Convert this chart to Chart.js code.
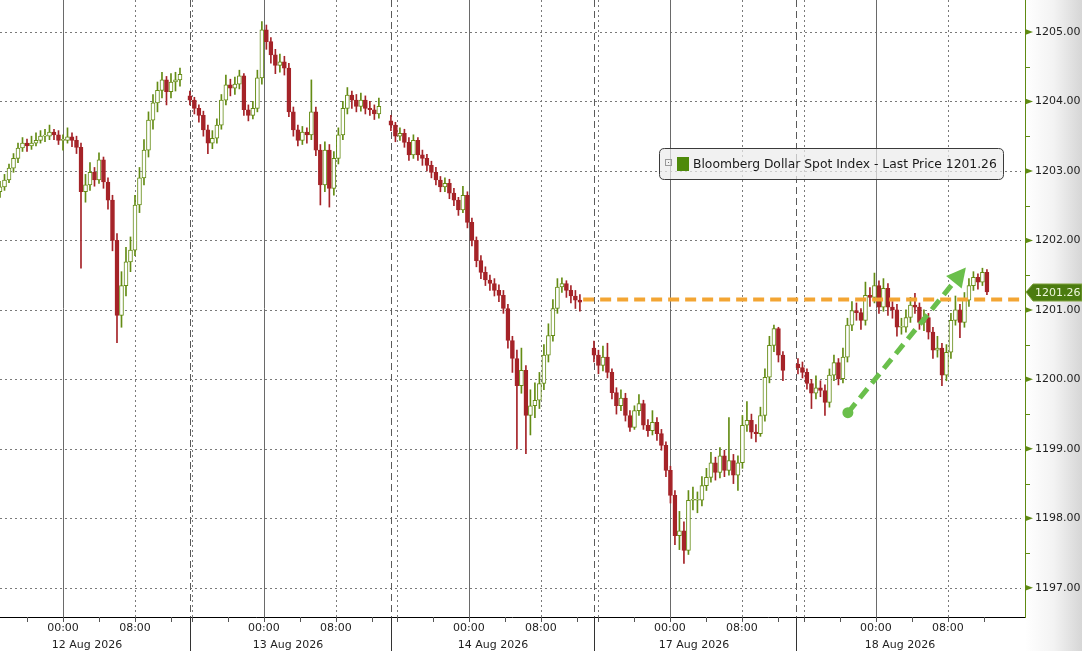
<!DOCTYPE html>
<html>
<head>
<meta charset="utf-8">
<title>Bloomberg Dollar Spot Index</title>
<script src="https://cdn.jsdelivr.net/npm/chart.js@4.4.1/dist/chart.umd.min.js"></script>
<style>
html,body{margin:0;padding:0;background:#fff;}
#wrap{width:1082px;height:651px;}
</style>
</head>
<body>
<div id="wrap"><canvas id="chart" width="1082" height="651"></canvas></div>
<script>
// time axis is in "session hours" from the left edge (gaps between sessions are squeezed out)
var dayNames=["12 Aug 2026","13 Aug 2026","14 Aug 2026","17 Aug 2026","18 Aug 2026"];
var dayMidnights=[7,29.33,52.11,74.44,97.33];
var dayBreaks=[21.1,43.4,66.0,88.4];
var dayStarts=[0,21.1,43.44,66.0,88.67];
var barHours=0.5;
var xMax=113.9;

var yTicks=[1197,1198,1199,1200,1201,1202,1203,1204,1205];
var yMin=1196.58, yMax=1205.46;

// 30 min candles, open = previous close
var firstOpens=[1202.70,1204.08,1203.72,1200.45,1200.22];

var closes12=[1202.77,1202.87,1203.04,1203.18,1203.33,1203.40,1203.36,1203.40,1203.44,1203.50,1203.50,1203.56,1203.52,1203.44,1203.44,1203.49,1203.44,1203.34,1202.70,1202.80,1202.98,1202.87,1203.16,1202.84,1202.58,1202.00,1200.92,1201.35,1201.69,1201.86,1202.51,1202.90,1203.30,1203.73,1203.98,1204.16,1204.31,1204.14,1204.28,1204.31,1204.39];
var highs12=[1202.85,1202.95,1203.10,1203.25,1203.40,1203.48,1203.46,1203.50,1203.55,1203.58,1203.60,1203.66,1203.60,1203.58,1203.52,1203.62,1203.55,1203.50,1203.40,1202.95,1203.12,1203.05,1203.26,1203.20,1202.90,1202.65,1202.10,1201.55,1201.90,1202.05,1202.65,1203.05,1203.45,1203.85,1204.10,1204.28,1204.42,1204.36,1204.40,1204.42,1204.48];
var lows12=[1202.62,1202.72,1202.83,1202.98,1203.12,1203.28,1203.28,1203.31,1203.36,1203.40,1203.42,1203.45,1203.45,1203.38,1203.30,1203.40,1203.35,1203.25,1201.60,1202.55,1202.72,1202.78,1202.82,1202.75,1202.45,1201.85,1200.53,1200.75,1201.20,1201.55,1201.78,1202.40,1202.80,1203.20,1203.60,1203.85,1204.05,1203.95,1204.05,1204.15,1204.22];

var closes13=[1204.02,1203.90,1203.80,1203.59,1203.40,1203.47,1203.66,1204.02,1204.24,1204.19,1204.25,1204.37,1203.88,1203.80,1203.90,1204.34,1205.03,1204.86,1204.67,1204.52,1204.57,1204.48,1203.85,1203.59,1203.44,1203.56,1203.52,1203.85,1203.30,1202.80,1203.30,1202.75,1203.18,1203.52,1203.90,1204.09,1204.02,1203.93,1204.02,1203.90,1203.88,1203.82,1203.93];
var highs13=[1204.15,1204.06,1203.95,1203.86,1203.66,1203.58,1203.75,1204.10,1204.38,1204.32,1204.35,1204.45,1204.40,1203.95,1204.00,1204.45,1205.15,1205.10,1204.92,1204.75,1204.68,1204.65,1204.55,1203.92,1203.66,1203.64,1203.62,1204.31,1203.92,1203.38,1203.42,1203.38,1203.28,1203.62,1204.00,1204.20,1204.15,1204.10,1204.12,1204.08,1204.00,1203.95,1204.05];
var lows13=[1203.95,1203.82,1203.70,1203.50,1203.25,1203.32,1203.40,1203.60,1203.95,1204.08,1204.10,1204.18,1203.80,1203.72,1203.75,1203.85,1204.25,1204.75,1204.55,1204.40,1204.42,1204.38,1203.78,1203.50,1203.36,1203.38,1203.40,1203.45,1203.22,1202.51,1202.70,1202.48,1202.65,1203.10,1203.45,1203.82,1203.90,1203.85,1203.86,1203.82,1203.80,1203.74,1203.76];

var closes14=[1203.66,1203.50,1203.54,1203.41,1203.23,1203.44,1203.23,1203.18,1203.08,1202.98,1202.87,1202.77,1202.82,1202.68,1202.58,1202.44,1202.65,1202.26,1202.00,1201.71,1201.54,1201.43,1201.38,1201.28,1201.21,1201.02,1200.56,1200.30,1199.91,1200.13,1199.48,1199.62,1199.70,1199.94,1200.35,1200.63,1201.02,1201.33,1201.38,1201.28,1201.20,1201.14,1201.11];
var highs14=[1203.80,1203.70,1203.62,1203.60,1203.48,1203.52,1203.48,1203.30,1203.24,1203.14,1203.05,1202.92,1202.90,1202.88,1202.75,1202.62,1202.78,1202.70,1202.32,1202.05,1201.78,1201.62,1201.50,1201.45,1201.36,1201.28,1201.08,1200.62,1200.42,1200.45,1200.20,1199.85,1199.95,1200.10,1200.50,1200.80,1201.15,1201.45,1201.46,1201.42,1201.35,1201.28,1201.22];
var lows14=[1203.58,1203.42,1203.44,1203.34,1203.15,1203.18,1203.15,1203.08,1203.00,1202.90,1202.80,1202.70,1202.70,1202.60,1202.50,1202.36,1202.40,1202.18,1201.92,1201.62,1201.45,1201.35,1201.28,1201.20,1201.12,1200.95,1200.45,1200.10,1199.00,1199.80,1198.93,1199.20,1199.45,1199.58,1199.85,1200.25,1200.55,1200.95,1201.25,1201.18,1201.10,1201.02,1200.98];

var closes17=[1200.35,1200.20,1200.32,1200.10,1199.81,1199.62,1199.73,1199.48,1199.31,1199.55,1199.65,1199.34,1199.26,1199.38,1199.22,1199.05,1198.69,1198.33,1197.75,1197.82,1197.54,1198.26,1198.26,1198.26,1198.47,1198.59,1198.80,1198.66,1198.90,1198.69,1198.83,1198.62,1198.80,1199.34,1199.41,1199.24,1199.22,1199.48,1200.03,1200.49,1200.73,1200.35,1200.13];
var highs17=[1200.55,1200.42,1200.48,1200.52,1200.15,1199.88,1199.85,1199.80,1199.55,1199.62,1199.78,1199.70,1199.42,1199.55,1199.45,1199.28,1199.10,1198.75,1198.40,1198.10,1197.95,1198.40,1198.45,1198.38,1198.60,1198.72,1198.95,1198.88,1199.02,1198.98,1199.45,1198.92,1198.90,1199.48,1199.68,1199.50,1199.35,1199.60,1200.15,1200.62,1200.78,1200.75,1200.40];
var lows17=[1200.25,1200.08,1200.12,1200.02,1199.72,1199.50,1199.55,1199.40,1199.25,1199.28,1199.48,1199.28,1199.18,1199.20,1199.12,1198.98,1198.60,1198.22,1197.62,1197.55,1197.35,1197.48,1198.12,1198.08,1198.18,1198.40,1198.52,1198.55,1198.58,1198.60,1198.62,1198.50,1198.40,1198.72,1199.25,1199.15,1199.10,1199.18,1199.40,1199.95,1200.40,1200.25,1199.98];

var closes18=[1200.17,1200.10,1199.94,1199.80,1199.88,1199.84,1199.67,1200.06,1200.24,1200.01,1200.32,1200.78,1200.99,1200.96,1200.85,1201.21,1201.18,1201.35,1201.04,1201.31,1201.04,1201.00,1200.75,1200.75,1200.89,1201.07,1201.04,1200.82,1200.89,1200.68,1200.42,1200.45,1200.06,1200.39,1200.85,1201.00,1200.82,1201.14,1201.35,1201.47,1201.40,1201.54,1201.26];
var highs18=[1200.30,1200.25,1200.15,1200.00,1200.05,1199.98,1199.92,1200.15,1200.35,1200.30,1200.45,1200.88,1201.12,1201.10,1201.02,1201.40,1201.32,1201.53,1201.42,1201.45,1201.38,1201.12,1201.08,1200.88,1201.00,1201.18,1201.24,1201.10,1201.00,1200.95,1200.75,1200.62,1200.52,1200.50,1200.95,1201.20,1201.08,1201.25,1201.45,1201.55,1201.52,1201.60,1201.58];
var lows18=[1200.08,1200.02,1199.86,1199.58,1199.72,1199.75,1199.48,1199.60,1199.98,1199.92,1199.95,1200.25,1200.70,1200.85,1200.72,1200.78,1201.05,1201.10,1200.95,1200.98,1200.92,1200.88,1200.62,1200.65,1200.68,1200.82,1200.95,1200.72,1200.70,1200.58,1200.30,1200.32,1199.91,1199.98,1200.30,1200.78,1200.60,1200.75,1201.05,1201.28,1201.30,1201.35,1201.22];

// annotations
var lastPrice=1201.26;
var refLevel=1201.15, refFrom=64.8;
var arrowFrom=[94.22,1199.52], arrowTo=[107.33,1201.61];
var legendText="Bloomberg Dollar Spot Index - Last Price 1201.26";

var upCol='#648c14', dnCol='#a52328', arrowCol='#6abf4b', orangeCol='#f3a533';

var days=[[closes12,highs12,lows12],[closes13,highs13,lows13],[closes14,highs14,lows14],[closes17,highs17,lows17],[closes18,highs18,lows18]];

function buildCandles(){
	var out=[];
	for(var d=0;d<days.length;d++){
		var c=days[d][0],h=days[d][1],l=days[d][2];
		for(var i=0;i<c.length;i++){
			var o=(i==0)?firstOpens[d]:c[i-1];
			out.push({x:dayStarts[d]+i*barHours,o:o,h:h[i],l:l[i],c:c[i]});
		}
	}
	return out;
}

function buildXTicks(){
	var vals=[],labels=[];
	for(var d=0;d<dayMidnights.length;d++){
		vals.push(dayMidnights[d]);labels.push("00:00");
		vals.push(dayMidnights[d]+2.67);labels.push(["",dayNames[d]]);
		vals.push(dayMidnights[d]+8);labels.push("08:00");
	}
	return {vals:vals,labels:labels};
}

function seg(d,xs){
	return [d==0?xs.min:dayBreaks[d-1], d<dayBreaks.length?dayBreaks[d]:xs.max];
}

function hline(ctx,x1,y1,x2,y2){
	ctx.beginPath();ctx.moveTo(x1,y1);ctx.lineTo(x2,y2);ctx.stroke();
}

var bgPlugin={
	id:'bg',
	beforeDraw:function(chart){
		var ctx=chart.ctx,a=chart.chartArea;
		ctx.save();
		ctx.fillStyle='#ffffff';
		ctx.fillRect(0,0,chart.width,chart.height);
		var g=ctx.createLinearGradient(a.right,0,chart.width,0);
		g.addColorStop(0,'#ffffff');
		g.addColorStop(0.5,'#f3f3f3');
		g.addColorStop(1,'#d6d6d6');
		ctx.fillStyle=g;
		ctx.fillRect(a.right,0,chart.width-a.right,chart.height);
		ctx.restore();
	}
};

var gridPlugin={
	id:'grid',
	beforeDatasetsDraw:function(chart){
		var ctx=chart.ctx,a=chart.chartArea,xs=chart.scales.x,ys=chart.scales.y;
		ctx.save();
		ctx.lineWidth=1;
		//horizontal dotted lines
		ctx.strokeStyle='#7a7a7a';
		ctx.setLineDash([2,3]);
		for(var k=0;k<yTicks.length;k++){
			var y=Math.round(ys.getPixelForValue(yTicks[k]))+0.5;
			hline(ctx,a.left,y,a.right-4,y);
		}
		//vertical lines, per session
		for(var d=0;d<dayMidnights.length;d++){
			var s=seg(d,xs);
			var offs=[-8,8];
			ctx.strokeStyle='#7a7a7a';
			ctx.setLineDash([2,3]);
			for(var j=0;j<offs.length;j++){
				var t=dayMidnights[d]+offs[j];
				if(t>s[0]&&t<s[1]){
					var x=Math.round(xs.getPixelForValue(t))+0.5;
					hline(ctx,x,a.top,x,a.bottom);
				}
			}
			ctx.setLineDash([]);
			ctx.strokeStyle='#6a6a6a';
			var xm=Math.round(xs.getPixelForValue(dayMidnights[d]))+0.5;
			hline(ctx,xm,a.top,xm,a.bottom);
		}
		//session breaks
		ctx.strokeStyle='#5a5a5a';
		ctx.setLineDash([7,4]);
		for(var b=0;b<dayBreaks.length;b++){
			var xb=Math.round(xs.getPixelForValue(dayBreaks[b]))+0.5;
			hline(ctx,xb,a.top,xb,a.bottom);
		}
		ctx.restore();
	}
};

var overlayPlugin={
	id:'overlay',
	afterDatasetsDraw:function(chart){
		var ctx=chart.ctx,xs=chart.scales.x,ys=chart.scales.y;
		//green trend arrow
		var p0={x:xs.getPixelForValue(arrowFrom[0]),y:ys.getPixelForValue(arrowFrom[1])};
		var p1={x:xs.getPixelForValue(arrowTo[0]),y:ys.getPixelForValue(arrowTo[1])};
		var ang=Math.atan2(p1.y-p0.y,p1.x-p0.x);
		var headLen=19,headW=10;
		var bx=p1.x-headLen*Math.cos(ang),by=p1.y-headLen*Math.sin(ang);
		ctx.save();
		ctx.strokeStyle=arrowCol;
		ctx.fillStyle=arrowCol;
		ctx.lineWidth=5;
		ctx.setLineDash([12,7]);
		hline(ctx,p0.x,p0.y,bx+2*Math.cos(ang),by+2*Math.sin(ang));
		ctx.setLineDash([]);
		ctx.beginPath();ctx.arc(p0.x,p0.y,5.5,0,Math.PI*2);ctx.fill();
		ctx.beginPath();
		ctx.moveTo(p1.x,p1.y);
		ctx.lineTo(bx+headW*Math.sin(ang),by-headW*Math.cos(ang));
		ctx.lineTo(bx-headW*Math.sin(ang),by+headW*Math.cos(ang));
		ctx.closePath();ctx.fill();
		ctx.restore();
	},
	afterDraw:function(chart){
		var ctx=chart.ctx,a=chart.chartArea,xs=chart.scales.x,ys=chart.scales.y;
		ctx.save();
		ctx.lineWidth=1;
		//x axis line and tick marks
		ctx.strokeStyle='#000000';
		hline(ctx,a.left,a.bottom+0.5,a.right,a.bottom+0.5);
		ctx.strokeStyle='#555555';
		for(var d=0;d<dayMidnights.length;d++){
			var s=seg(d,xs);
			var offs=[-8,-4,0,4,8,12];
			for(var j=0;j<offs.length;j++){
				var t=dayMidnights[d]+offs[j];
				if(t>s[0]&&t<s[1]){
					var x=Math.round(xs.getPixelForValue(t))+0.5;
					hline(ctx,x,a.bottom,x,a.bottom+5);
				}
			}
		}
		ctx.strokeStyle='#333333';
		for(var b=0;b<dayBreaks.length;b++){
			var xb=Math.round(xs.getPixelForValue(dayBreaks[b]))+0.5;
			hline(ctx,xb,a.bottom,xb,chart.height);
		}
		//y axis line, arrow ticks, minor ticks
		var axCol='#5f8a12';
		var xr=Math.round(a.right)+0.5;
		ctx.strokeStyle=axCol;
		hline(ctx,xr,a.top,xr,a.bottom+1);
		ctx.fillStyle=axCol;
		for(var k=0;k<yTicks.length;k++){
			var y=ys.getPixelForValue(yTicks[k]);
			ctx.beginPath();
			ctx.moveTo(a.right,y-3);ctx.lineTo(a.right+8,y);ctx.lineTo(a.right,y+3);
			ctx.closePath();ctx.fill();
			var ym=Math.round(ys.getPixelForValue(yTicks[k]+0.5))+0.5;
			if(yTicks[k]+0.5<yMax) hline(ctx,a.right,ym,a.right+5,ym);
		}
		if(yTicks[0]-0.5>yMin){
			var y0=Math.round(ys.getPixelForValue(yTicks[0]-0.5))+0.5;
			hline(ctx,a.right,y0,a.right+5,y0);
		}
		//last price tag
		var py=Math.round(ys.getPixelForValue(lastPrice));
		ctx.beginPath();
		ctx.moveTo(a.right+1,py);
		ctx.lineTo(a.right+8,py-8);
		ctx.lineTo(chart.width,py-8);
		ctx.lineTo(chart.width,py+9);
		ctx.lineTo(a.right+8,py+9);
		ctx.closePath();
		ctx.fillStyle='#4b7b10';
		ctx.fill();
		ctx.strokeStyle='#7ea23c';
		ctx.stroke();
		ctx.fillStyle='#eef7dc';
		ctx.font='11px "DejaVu Sans"';
		ctx.textBaseline='middle';
		ctx.textAlign='left';
		ctx.fillText(lastPrice.toFixed(2),a.right+10,py+1);
		//legend box
		var lx=659.5,ly=148.5,lw=344,lh=31,r=5;
		ctx.beginPath();
		ctx.moveTo(lx+r,ly);ctx.lineTo(lx+lw-r,ly);ctx.quadraticCurveTo(lx+lw,ly,lx+lw,ly+r);
		ctx.lineTo(lx+lw,ly+lh-r);ctx.quadraticCurveTo(lx+lw,ly+lh,lx+lw-r,ly+lh);
		ctx.lineTo(lx+r,ly+lh);ctx.quadraticCurveTo(lx,ly+lh,lx,ly+lh-r);
		ctx.lineTo(lx,ly+r);ctx.quadraticCurveTo(lx,ly,lx+r,ly);
		ctx.closePath();
		ctx.fillStyle='rgba(236,236,236,0.72)';
		ctx.fill();
		ctx.strokeStyle='#3a3a3a';
		ctx.stroke();
		ctx.strokeStyle='#9a9a9a';
		ctx.strokeRect(665.5,159.5,6,6);
		ctx.fillStyle='#777777';
		ctx.fillRect(668,162,1,1);
		ctx.fillStyle='#4e8a0a';
		ctx.fillRect(677,157,12,14);
		ctx.font='12px "DejaVu Sans"';
		var w12=ctx.measureText(legendText).width;
		var fs=12*304/w12;
		ctx.font=fs.toFixed(2)+'px "DejaVu Sans"';
		ctx.fillStyle='#1a1a1a';
		ctx.fillText(legendText,693,164.5);
		ctx.restore();
	}
};

function drawChart(){
	var candles=buildCandles();
	var xt=buildXTicks();
	var bodyData=[],wickData=[],lineCols=[],fills=[];
	for(var i=0;i<candles.length;i++){
		var k=candles[i];
		bodyData.push({x:k.x,y:[k.o,k.c]});
		wickData.push({x:k.x,y:[k.l,k.h]});
		lineCols.push(k.c>=k.o?upCol:dnCol);
		fills.push(k.c>=k.o?'#ffffff':dnCol);
	}
	var ctx=document.getElementById('chart').getContext('2d');
	new Chart(ctx,{
		type:'bar',
		data:{
			datasets:[
				{type:'line',data:[{x:refFrom,y:refLevel},{x:xMax,y:refLevel}],borderColor:orangeCol,borderWidth:4,borderDash:[11,6],pointRadius:0,fill:false},
				{data:bodyData,backgroundColor:fills,borderColor:lineCols,borderWidth:1,borderSkipped:false,barThickness:4,minBarLength:1,grouped:false},
				{data:wickData,backgroundColor:lineCols,borderWidth:0,barThickness:1,grouped:false}
			]
		},
		options:{
			responsive:false,
			animation:false,
			devicePixelRatio:1,
			layout:{padding:0},
			plugins:{legend:{display:false},tooltip:{enabled:false}},
			scales:{
				x:{
					type:'linear',min:0,max:xMax,offset:false,
					grid:{display:false,drawTicks:false},
					border:{display:false},
					afterBuildTicks:function(s){s.ticks=xt.vals.map(function(v){return {value:v};});},
					ticks:{autoSkip:false,maxRotation:0,minRotation:0,padding:3,color:'#1e1e1e',
						font:{family:'DejaVu Sans',size:11,lineHeight:1.5},
						callback:function(v,i){return xt.labels[i];}},
					afterFit:function(s){s.height=34;s.paddingLeft=0;s.paddingRight=0;}
				},
				y:{
					position:'right',min:yMin,max:yMax,
					grid:{display:false,drawTicks:false},
					border:{display:false},
					afterBuildTicks:function(s){s.ticks=yTicks.map(function(v){return {value:v};});},
					ticks:{padding:10,color:'#1e1e1e',font:{family:'DejaVu Sans',size:11},
						callback:function(v){return v.toFixed(2);}},
					afterFit:function(s){s.width=57;s.paddingTop=0;s.paddingBottom=0;}
				}
			}
		},
		plugins:[bgPlugin,gridPlugin,overlayPlugin]
	});
}

drawChart();
</script>
</body>
</html>
